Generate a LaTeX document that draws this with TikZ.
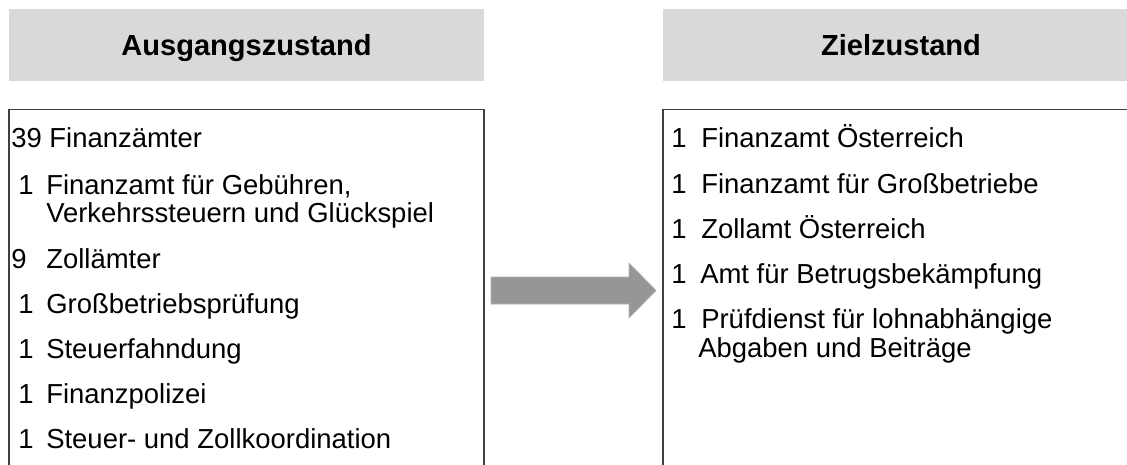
\documentclass[tikz,border=0pt]{standalone}
\usepackage{fontspec}
\setmainfont{Liberation Sans}
\begin{document}
\begin{tikzpicture}[x=0.75pt,y=-0.75pt,
  header/.style={fill=headgray,draw=none},
  listbox/.style={draw=boxgray,line width=1.3pt,fill=white},
  htext/.style={font=\fontsize{21.8pt}{26pt}\selectfont\bfseries,inner sep=0pt,anchor=base},
  item/.style={font=\fontsize{20.6pt}{24pt}\selectfont,inner sep=0pt,anchor=base west},
  bigarrow/.style={fill=arrowgray,draw=arrowedge,line width=0.5pt}]
\definecolor{headgray}{HTML}{D9D9D9}
\definecolor{boxgray}{HTML}{404040}
\definecolor{arrowgray}{HTML}{969696}
\definecolor{arrowedge}{HTML}{B4B4B4}
\useasboundingbox (0,0) rectangle (1127,464);
\clip (0,0) rectangle (1127,464);
\fill[white] (0,0) rectangle (1127,464);
% headers
\path[header] (9,9) rectangle (484,81);
\path[header] (663,9) rectangle (1139,81);
\node[htext] (hl) at (246.5,55) {Ausgangszustand};
\node[htext] (hr) at (901,55) {Zielzustand};
% boxes
\draw[listbox] (9,109.5) rectangle (484,520);
\draw[listbox] (663,109.5) rectangle (1139,520);
% left list
\node[item] (l1) at (11,147) {39 Finanzämter};
\node[item] (l2n) at (18,194) {1};
\node[item] (l2) at (46,194) {Finanzamt für Gebühren,};
\node[item] (l2b) at (46,222) {Verkehrssteuern und Glückspiel};
\node[item] (l3n) at (11,268) {9};
\node[item] (l3) at (46,268) {Zollämter};
\node[item] (l4n) at (18,313) {1};
\node[item] (l4) at (46,313) {Großbetriebsprüfung};
\node[item] (l5n) at (18,358) {1};
\node[item] (l5) at (46,358) {Steuerfahndung};
\node[item] (l6n) at (18,403) {1};
\node[item] (l6) at (46,403) {Finanzpolizei};
\node[item] (l7n) at (18,448) {1};
\node[item] (l7) at (46,448) {Steuer- und Zollkoordination};
% right list
\node[item] (r1n) at (671,147) {1};
\node[item] (r1) at (701,147) {Finanzamt Österreich};
\node[item] (r2n) at (671,193) {1};
\node[item] (r2) at (701,193) {Finanzamt für Großbetriebe};
\node[item] (r3n) at (671,238) {1};
\node[item] (r3) at (701,238) {Zollamt Österreich};
\node[item] (r4n) at (671,283) {1};
\node[item] (r4) at (700,283) {Amt für Betrugsbekämpfung};
\node[item] (r5n) at (671,328) {1};
\node[item] (r5) at (701,328) {Prüfdienst für lohnabhängige};
\node[item] (r5b) at (698,357) {Abgaben und Beiträge};
% arrow
\path[bigarrow] (491,277) -- (629,277) -- (629,263) -- (656,290.5) -- (629,318) -- (629,304) -- (491,304) -- cycle;
\end{tikzpicture}
\end{document}
